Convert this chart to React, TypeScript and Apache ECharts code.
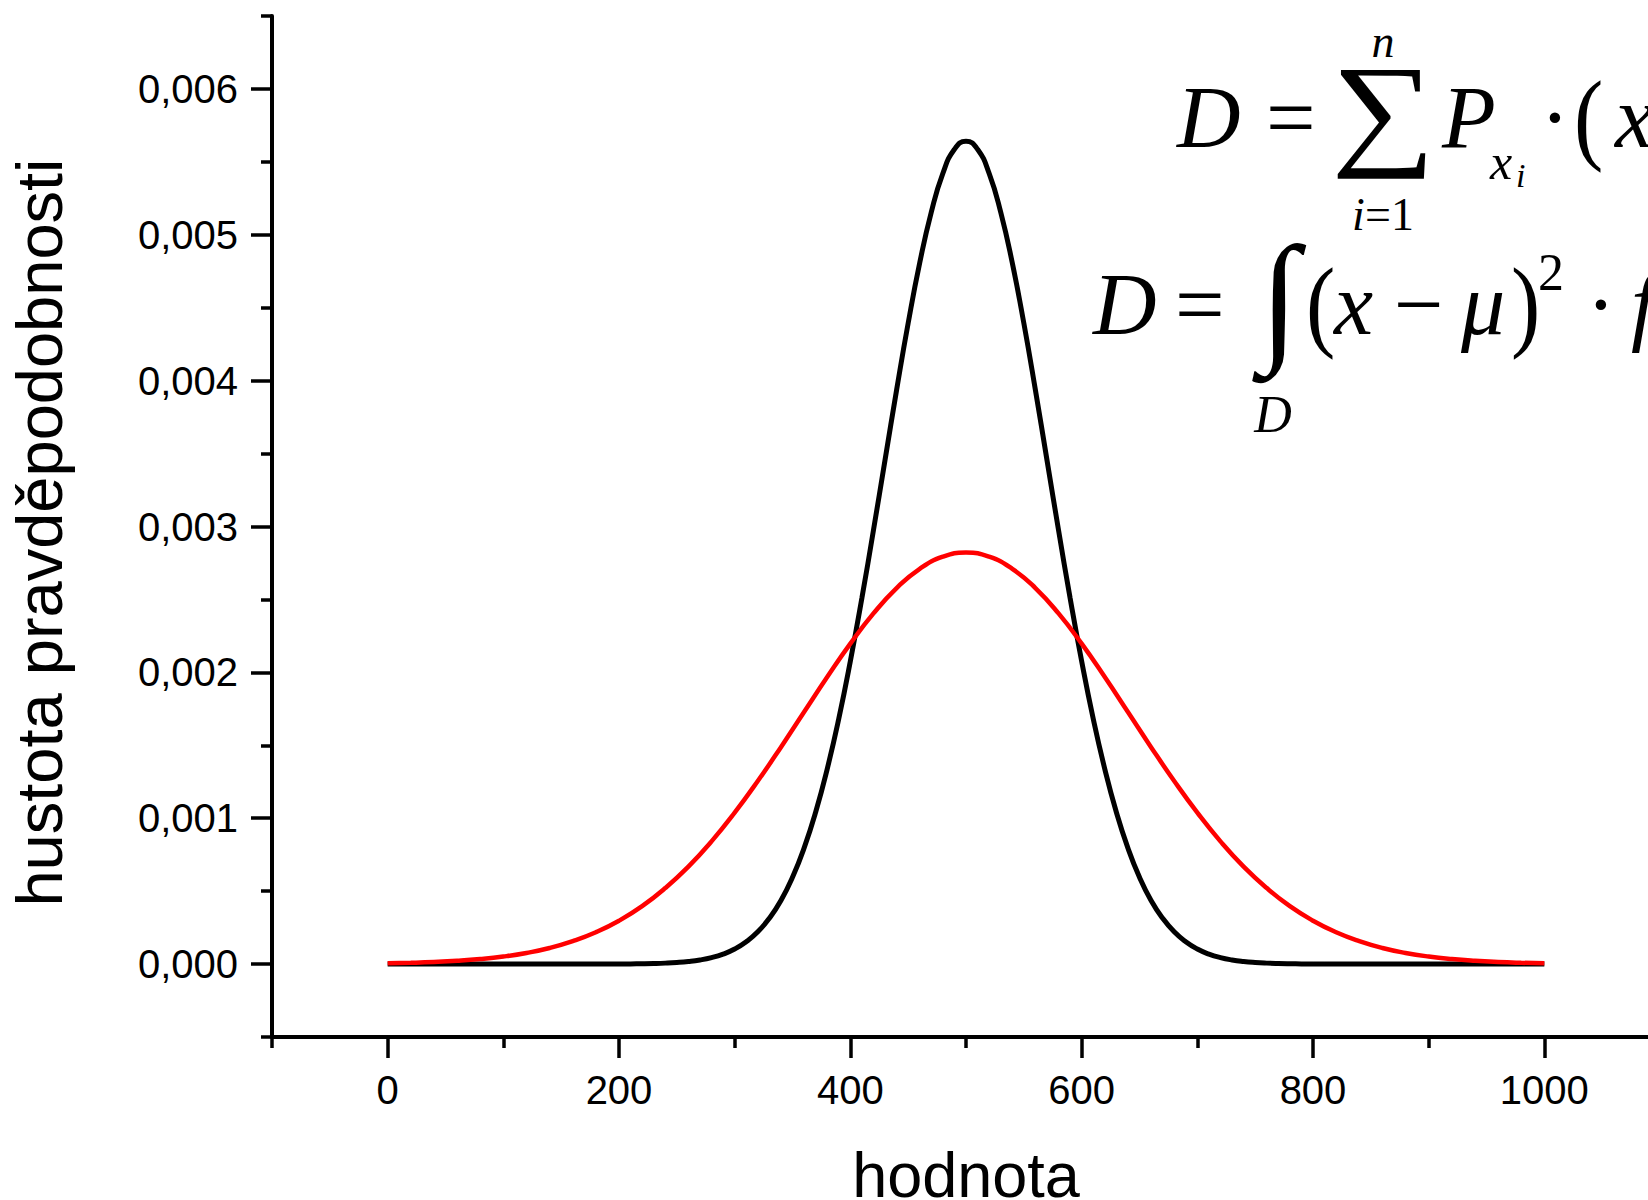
import React, { useEffect, useRef } from 'react';
import * as echarts from 'echarts';

// ---- data ----
// black curve (narrow), sampled every 10
const blackX = [
  0, 10, 20, 30, 40, 50, 60, 70, 80, 90, 100, 110, 120, 130, 140, 150, 160, 170, 180, 190,
  200, 210, 220, 230, 240, 250, 260, 270, 280, 290, 300, 310, 320, 330, 340, 350, 360, 370, 380, 390,
  400, 410, 420, 430, 440, 450, 460, 470, 480, 490, 500, 510, 520, 530, 540, 550, 560, 570, 580, 590,
  600, 610, 620, 630, 640, 650, 660, 670, 680, 690, 700, 710, 720, 730, 740, 750, 760, 770, 780, 790,
  800, 810, 820, 830, 840, 850, 860, 870, 880, 890, 900, 910, 920, 930, 940, 950, 960, 970, 980, 990, 1000,
];
const blackDensity = [
  0, 0, 0, 0, 0, 0, 0, 0, 0, 0, 0, 0, 0, 0, 0, 0, 0, 0, 0.0000002, 0.0000004,
  0.0000007, 0.0000013, 0.0000022, 0.0000038, 0.0000065, 0.0000109, 0.0000178, 0.0000284, 0.0000446, 0.0000686,
  0.000103, 0.000153, 0.000221, 0.000314, 0.000436, 0.000595, 0.000795, 0.001041, 0.001337, 0.001682,
  0.002076, 0.00251, 0.002975, 0.003456, 0.003936, 0.004394, 0.004808, 0.005156, 0.005421, 0.005586,
  0.005642, 0.005586, 0.005421, 0.005156, 0.004808, 0.004394, 0.003936, 0.003456, 0.002975, 0.00251,
  0.002076, 0.001682, 0.001337, 0.001041, 0.000795, 0.000595, 0.000436, 0.000314, 0.000221, 0.000153,
  0.000103, 0.0000686, 0.0000446, 0.0000284, 0.0000178, 0.0000109, 0.0000065, 0.0000038, 0.0000022, 0.0000013,
  0.0000007, 0.0000004, 0.0000002, 0, 0, 0, 0, 0, 0, 0, 0, 0, 0, 0, 0, 0, 0, 0, 0, 0, 0,
];

// red curve (wide), sampled every 20
const redX = [
  0, 20, 40, 60, 80, 100, 120, 140, 160, 180,
  200, 220, 240, 260, 280, 300, 320, 340, 360, 380,
  400, 420, 440, 460, 480, 500, 520, 540, 560, 580,
  600, 620, 640, 660, 680, 700, 720, 740, 760, 780,
  800, 820, 840, 860, 880, 900, 920, 940, 960, 980, 1000,
];
const redDensity = [
  0.0000054, 0.0000089, 0.0000142, 0.0000223, 0.0000343, 0.0000517, 0.0000763, 0.00011, 0.000157, 0.000218,
  0.000297, 0.000397, 0.000521, 0.000668, 0.000841, 0.001038, 0.001255, 0.001487, 0.001728, 0.001968,
  0.002197, 0.002404, 0.002578, 0.00271, 0.002793, 0.002821, 0.002793, 0.00271, 0.002578, 0.002404,
  0.002197, 0.001968, 0.001728, 0.001487, 0.001255, 0.001038, 0.000841, 0.000668, 0.000521, 0.000397,
  0.000297, 0.000218, 0.000157, 0.00011, 0.0000763, 0.0000517, 0.0000343, 0.0000223, 0.0000142, 0.0000089, 0.0000054,
];

const xMajorTicks = [0, 200, 400, 600, 800, 1000];
const xMinorTicks = [-100, 100, 300, 500, 700, 900, 1100];
const yMajorTicks = [0, 0.001, 0.002, 0.003, 0.004, 0.005, 0.006];
const yMinorTicks = [-0.0005, 0.0005, 0.0015, 0.0025, 0.0035, 0.0045, 0.0055, 0.0065];

const xTitle = 'hodnota';
const yTitle = 'hustota pravděpodobnosti';

// ---- styling / layout ----
const SERIF = '"Liberation Serif", "Times New Roman", serif';
const SANS = '"Liberation Sans", Arial, sans-serif';

type Piece = {
  t: string; x: number; base?: number; mid?: number; size: number;
  it?: boolean; bold?: boolean; al?: 'left' | 'center' | 'right'; sx?: number; sy?: number; lh?: number;
};

const formulaPieces: Piece[] = [
  // D = sum_{i=1}^{n} P_{x_i} . (x ...
  { t: 'D', x: 1177, base: 147, size: 88, it: true },
  { t: '=', x: 1266, base: 147, size: 88 },
  { t: '∑', x: 1383, mid: 110, size: 125, al: 'center', sx: 1.17, lh: 70 },
  { t: 'n', x: 1383, base: 57, size: 46, it: true, al: 'center' },
  { t: 'i', x: 1352, base: 230, size: 46, it: true },
  { t: '=', x: 1365, base: 230, size: 46 },
  { t: '1', x: 1391, base: 230, size: 46 },
  { t: 'P', x: 1442, base: 147, size: 88, it: true, lh: 56 },
  { t: 'x', x: 1490, base: 179, size: 50, it: true, lh: 28 },
  { t: 'i', x: 1516, base: 187, size: 34, it: true, lh: 22 },
  { t: '·', x: 1555, base: 147, size: 88, al: 'center' },
  { t: '(', x: 1574, base: 147, size: 88, sy: 1.15 },
  { t: 'x', x: 1615, base: 147, size: 88, it: true },
  // D = int_D (x - mu)^2 . f ...
  { t: 'D', x: 1093, base: 334, size: 88, it: true },
  { t: '=', x: 1175, base: 334, size: 88 },
  { t: '∫', x: 1279, mid: 297, size: 143, al: 'center', lh: 80, bold: true },
  { t: 'D', x: 1273, base: 432, size: 52, it: true, al: 'center' },
  { t: '(', x: 1306, base: 334, size: 88, sy: 1.15 },
  { t: 'x', x: 1334, base: 334, size: 88, it: true },
  { t: '−', x: 1394, base: 334, size: 88 },
  { t: 'μ', x: 1461, base: 334, size: 88, it: true },
  { t: ')', x: 1511, base: 334, size: 88, sy: 1.15, lh: 56 },
  { t: '2', x: 1538, base: 290, size: 52, lh: 34 },
  { t: '·', x: 1601, base: 334, size: 88, al: 'center' },
  { t: 'f', x: 1631, base: 334, size: 88, it: true },
];

function pieceToGraphic(p: Piece) {
  const y = p.mid !== undefined ? p.mid : (p.base as number) - 0.3375 * p.size;
  const al = p.al || 'left';
  return {
    type: 'text',
    x: p.x,
    y,
    scaleX: p.sx || 1,
    scaleY: p.sy || 1,
    z: 100,
    silent: true,
    style: {
      text: p.t,
      fill: '#000',
      fontSize: p.size,
      fontFamily: SERIF,
      fontStyle: p.it ? 'italic' : 'normal',
      fontWeight: p.bold ? 'bold' : 'normal',
      lineHeight: p.lh || Math.round(p.size * 0.75),
      align: al,
      textAlign: al,
      verticalAlign: 'middle',
      textVerticalAlign: 'middle',
    },
  };
}

const fmtY = (v: number) => v.toFixed(3).replace('.', ',');
const fmtX = (v: number) => String(Math.round(v));

export default function App() {
  const ref = useRef<HTMLDivElement>(null);

  useEffect(() => {
    if (!ref.current) return;
    const chart = echarts.init(ref.current, undefined, { renderer: 'svg' });

    const axisLineStyle = { color: '#000', width: 4 };
    const tickStyle = { color: '#000', width: 3.5 };

    const option: any = {
      animation: false,
      backgroundColor: '#fff',
      grid: {
        left: 272, right: -12, top: 16, bottom: 163,
        containLabel: false, outerBoundsMode: 'none',
      },
      xAxis: [
        {
          type: 'value',
          position: 'bottom',
          min: -100,
          max: 1100,
          axisLine: { show: true, onZero: false, lineStyle: axisLineStyle },
          axisTick: { show: true, inside: false, length: 21, lineStyle: tickStyle, customValues: xMajorTicks },
          axisLabel: {
            show: true, customValues: xMajorTicks, margin: 33,
            fontSize: 40, fontFamily: SANS, color: '#000', formatter: fmtX,
          },
          splitLine: { show: false },
          name: xTitle,
          nameLocation: 'middle',
          nameGap: 113,
          nameTextStyle: { fontSize: 63, lineHeight: 50, fontFamily: SANS, color: '#000' },
        },
        {
          type: 'value',
          position: 'bottom',
          min: -100,
          max: 1100,
          axisLine: { show: false, onZero: false },
          axisTick: { show: true, inside: false, length: 11, lineStyle: tickStyle, customValues: xMinorTicks },
          axisLabel: { show: false },
          splitLine: { show: false },
        },
      ],
      yAxis: [
        {
          type: 'value',
          position: 'left',
          min: -0.0005,
          max: 0.0065,
          axisLine: { show: true, onZero: false, lineStyle: axisLineStyle },
          axisTick: { show: true, inside: false, length: 21, lineStyle: tickStyle, customValues: yMajorTicks },
          axisLabel: {
            show: true, customValues: yMajorTicks, margin: 34,
            fontSize: 40, fontFamily: SANS, color: '#000',
            formatter: fmtY,
          },
          splitLine: { show: false },
          name: yTitle,
          nameLocation: 'middle',
          nameGap: 200,
          nameTextStyle: { fontSize: 65, fontFamily: SANS, color: '#000', padding: [0, 12, 0, 0] },
        },
        {
          type: 'value',
          position: 'left',
          min: -0.0005,
          max: 0.0065,
          axisLine: { show: false, onZero: false },
          axisTick: { show: true, inside: false, length: 11, lineStyle: tickStyle, customValues: yMinorTicks },
          axisLabel: { show: false },
          splitLine: { show: false },
        },
      ],
      series: [
        {
          name: 'black',
          type: 'line',
          xAxisIndex: 0,
          yAxisIndex: 0,
          data: blackX.map((x, i) => [x, blackDensity[i]]),
          showSymbol: false,
          smooth: true,
          lineStyle: { color: '#000', width: 5 },
          itemStyle: { color: '#000' },
          z: 3,
        },
        {
          name: 'red',
          type: 'line',
          xAxisIndex: 0,
          yAxisIndex: 0,
          data: redX.map((x, i) => [x, redDensity[i]]),
          showSymbol: false,
          smooth: true,
          lineStyle: { color: '#ff0000', width: 4.5 },
          itemStyle: { color: '#ff0000' },
          z: 4,
        },
      ],
      graphic: formulaPieces.map(pieceToGraphic),
    };

    chart.setOption(option);
    return () => chart.dispose();
  }, []);

  return (
    <div
      ref={ref}
      style={{ position: 'fixed', left: 0, top: 0, width: 1648, height: 1200, background: '#fff' }}
    />
  );
}
